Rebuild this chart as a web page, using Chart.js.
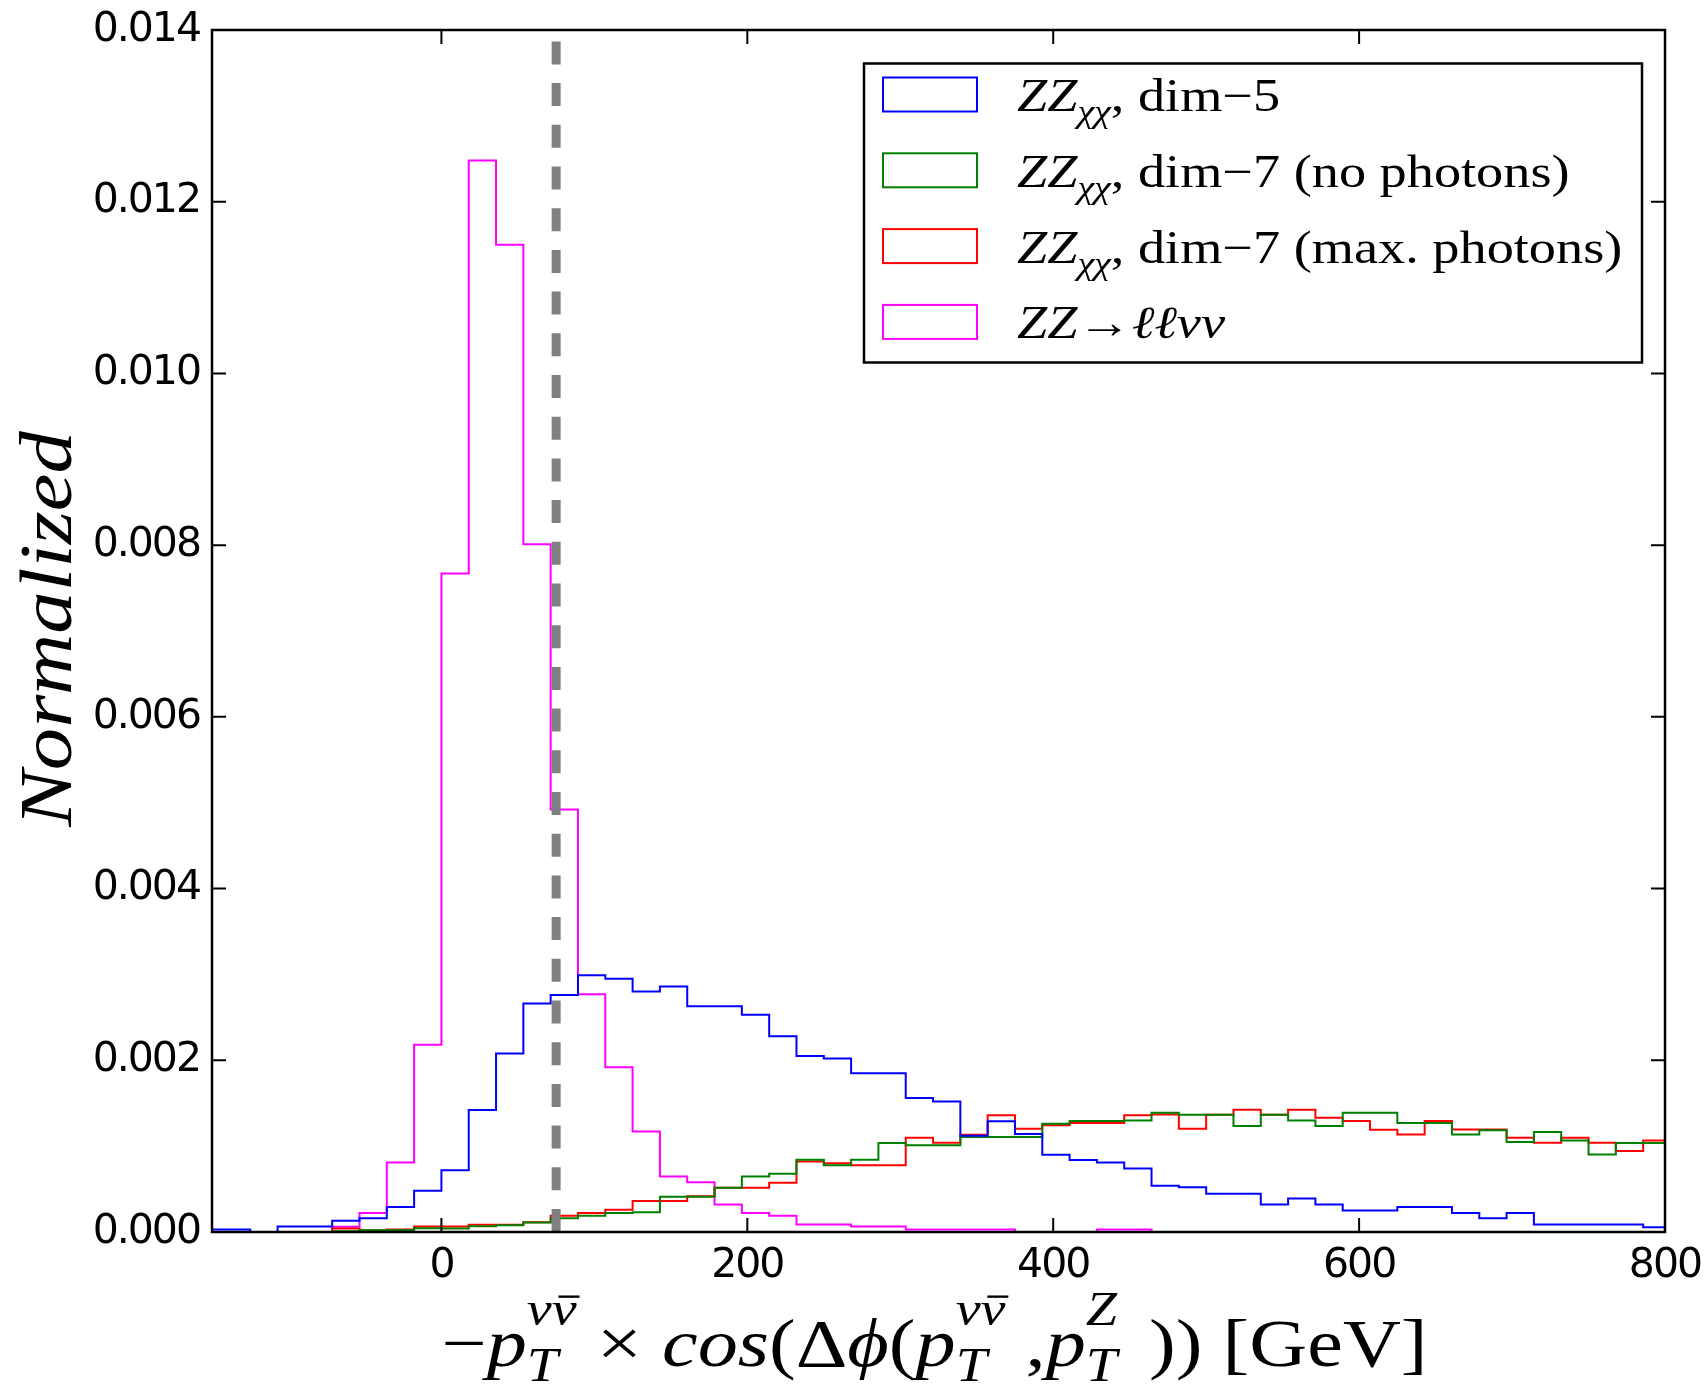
<!DOCTYPE html>
<html>
<head>
<meta charset="utf-8">
<script src="https://cdn.jsdelivr.net/npm/chart.js@4.4.0/dist/chart.umd.min.js"></script>
<style>
    html, body { margin: 0; padding: 0; background: #fff; }
    #chart { display: block; }
</style>
</head>
<body>
<canvas id="chart" width="1708" height="1387"></canvas>
<script>
// histogram binning: 56 bins per 1000 GeV, first stored bin starts 9 bins below zero
const binWidth = 1000 / 56
const firstBin = -9

const xTicks = [0, 200, 400, 600, 800]
const yTicks = [0, 0.002, 0.004, 0.006, 0.008, 0.010, 0.012, 0.014]
const cutValue = 75

// bin contents, bins -9 .. 44
const dim5 = [
    0.00003, 0.00003, 0, 0.000064, 0.000064, 0.00013, 0.00016, 0.00029, 0.00048,
    0.00072, 0.00142, 0.00208, 0.00266, 0.00276, 0.00299, 0.00295, 0.00280, 0.00286, 0.00263,
    0.00263, 0.00253, 0.00228, 0.00205, 0.00202, 0.00185, 0.00185, 0.00156, 0.00152, 0.00112,
    0.00129, 0.00114, 0.00090, 0.00084, 0.00081, 0.00074, 0.00054, 0.00052, 0.000445, 0.000445,
    0.00032, 0.00039, 0.00032, 0.00025, 0.00025, 0.00029, 0.00029, 0.00022, 0.00016, 0.00022,
    0.000087, 0.000087, 0.000087, 0.000087, 0.000056
]
const dim7NoPhotons = [
    0, 0, 0, 0, 0, 0.00001, 0.00002, 0.00002, 0.000044,
    0.00004, 0.000068, 0.00008, 0.00011, 0.00016, 0.00019, 0.00022, 0.00023, 0.00041, 0.00041,
    0.000515, 0.000647, 0.000679, 0.000842, 0.000776, 0.000842, 0.001036, 0.001009, 0.001009, 0.001106,
    0.001106, 0.001106, 0.001262, 0.001292, 0.001292, 0.00130, 0.00139, 0.001367, 0.001367, 0.001234,
    0.001367, 0.00130, 0.001234, 0.00139, 0.00139, 0.001269, 0.00127, 0.001137, 0.001184, 0.001047,
    0.001164, 0.001067, 0.000904, 0.001036, 0.001036
]
const dim7MaxPhotons = [
    0, 0, 0, 0, 0, 0.00004, 0.00002, 0.00003, 0.000064,
    0.000064, 0.000084, 0.000084, 0.000114, 0.00019, 0.00022, 0.00026, 0.00036, 0.00036, 0.000415,
    0.000515, 0.000515, 0.000575, 0.000822, 0.000802, 0.000776, 0.000776, 0.001098, 0.00104, 0.001133,
    0.001359, 0.001203, 0.001242, 0.001269, 0.001269, 0.001359, 0.00137, 0.001203, 0.001367, 0.001425,
    0.001367, 0.001425, 0.001332, 0.001292, 0.001192, 0.001137, 0.001292, 0.001195, 0.001195, 0.001098,
    0.00104, 0.001098, 0.00104, 0.000942, 0.001067
]
const zzBackground = [
    0, 0, 0, 0, 0, 0.00006, 0.00022, 0.00081, 0.00218,
    0.00767, 0.01248, 0.0115, 0.00801, 0.00492, 0.00277, 0.00192, 0.00117, 0.000645, 0.00058,
    0.00032, 0.00022, 0.00019, 0.000087, 0.000087, 0.000064, 0.000064, 0.000029, 0.000029, 0.000029,
    0.000029, 0, 0, 0, 0.000029, 0.000029, 0, 0, 0, 0,
    0, 0, 0, 0, 0, 0, 0, 0, 0, 0,
    0, 0, 0, 0, 0
]

const seriesColors = ['#0000ff', '#008000', '#ff0000', '#ff00ff']

// step outline: one point per left edge, last point on the closing right edge
function stepPoints(values) {
    var pts = values.map((v, i) => ({x: (firstBin + i) * binWidth, y: v}))
    pts.push({x: (firstBin + values.length) * binWidth, y: values[values.length - 1]})
    return pts
}

function histSet(values, color) {
    return {
        data: stepPoints(values),
        borderColor: color,
        borderWidth: 2,
        stepped: 'before',
        pointRadius: 0,
        fill: false,
        clip: 0
    }
}

const SERIF = '"Liberation Serif", "Times New Roman", serif'

// minimal rich text: plain runs plus stacked super/subscripts
function layoutRich(ctx, parts, size, draw) {
    var x = 0
    parts.forEach(p => {
        if (p.sup !== undefined || p.sub !== undefined) {
            var s = size * 0.7
            ctx.font = 'italic ' + s + 'px ' + SERIF
            var w1 = p.sup ? ctx.measureText(p.sup).width : 0
            var w2 = p.sub ? ctx.measureText(p.sub).width : 0
            var supY = -size * 0.6
            if (draw) {
                if (p.sup) ctx.fillText(p.sup, x, supY)
                if (p.sub) ctx.fillText(p.sub, x, size * (p.sup ? 0.22 : 0.24))
                if (p.bar) {
                    // bar over the last character of the superscript
                    var wl = ctx.measureText(p.sup.slice(-1)).width
                    ctx.save()
                    ctx.strokeStyle = '#000'
                    ctx.lineWidth = size * 0.035
                    ctx.beginPath()
                    ctx.moveTo(x + w1 - wl + s * 0.12, supY - s * 0.6)
                    ctx.lineTo(x + w1 + s * 0.05, supY - s * 0.6)
                    ctx.stroke()
                    ctx.restore()
                }
            }
            x += Math.max(w1, w2) + (p.gap || 0) * size
        } else {
            ctx.font = (p.it ? 'italic ' : '') + size + 'px ' + SERIF
            if (draw) ctx.fillText(p.t, x, 0)
            x += ctx.measureText(p.t).width
        }
    })
    return x
}

function drawRich(ctx, parts, x, y, size, stretch, center) {
    ctx.save()
    ctx.letterSpacing = '0px'
    ctx.translate(x, y)
    ctx.scale(stretch, 1)
    var w = layoutRich(ctx, parts, size, false)
    if (center) ctx.translate(-w / 2, 0)
    ctx.textAlign = 'left'
    ctx.textBaseline = 'alphabetic'
    ctx.fillStyle = '#000'
    layoutRich(ctx, parts, size, true)
    ctx.restore()
    return w * stretch
}

const legendRows = [
    [{t: 'ZZ', it: true}, {sub: 'χχ'}, {t: ', dim−5'}],
    [{t: 'ZZ', it: true}, {sub: 'χχ'}, {t: ', dim−7 (no photons)'}],
    [{t: 'ZZ', it: true}, {sub: 'χχ'}, {t: ', dim−7 (max. photons)'}],
    [{t: 'ZZ', it: true}, {t: '→'}, {t: 'ℓℓνν', it: true}]
]

const xTitle = [
    {t: '−'}, {t: 'p', it: true}, {sup: 'νν', bar: true, sub: 'T'}, {t: ' × '},
    {t: 'cos', it: true}, {t: '(Δ'}, {t: 'ϕ', it: true}, {t: '('},
    {t: 'p', it: true}, {sup: 'νν', bar: true, sub: 'T'}, {t: ' ,'},
    {t: 'p', it: true}, {sup: 'Z', sub: 'T', gap: 0.15}, {t: ' ))'}, {t: ' [GeV]'}
]

var decorations = {
    id: 'decorations',
    beforeDraw: (chart) => {
        chart.ctx.letterSpacing = '-2px'
    },
    afterDatasetsDraw: (chart) => {
        var ctx = chart.ctx
        var a = chart.chartArea
        var xs = chart.scales.x
        var ys = chart.scales.y
        ctx.save()
        ctx.strokeStyle = '#000'
        ctx.lineWidth = 2
        ctx.beginPath()
        xTicks.forEach(v => {
            var px = xs.getPixelForValue(v)
            ctx.moveTo(px, a.bottom); ctx.lineTo(px, a.bottom - 14)
            ctx.moveTo(px, a.top); ctx.lineTo(px, a.top + 14)
        })
        yTicks.forEach(v => {
            var py = ys.getPixelForValue(v)
            ctx.moveTo(a.left, py); ctx.lineTo(a.left + 14, py)
            ctx.moveTo(a.right, py); ctx.lineTo(a.right - 14, py)
        })
        ctx.stroke()
        ctx.lineWidth = 2.5
        ctx.strokeRect(a.left, a.top, a.right - a.left, a.bottom - a.top)
        ctx.restore()
    },
    afterDraw: (chart) => {
        var ctx = chart.ctx
        ctx.save()
        ctx.letterSpacing = '0px'
        // legend
        ctx.fillStyle = '#fff'
        ctx.fillRect(864, 63.5, 778, 299)
        ctx.strokeStyle = '#000'
        ctx.lineWidth = 2.5
        ctx.strokeRect(864, 63.5, 778, 299)
        legendRows.forEach((row, i) => {
            var cy = 94.5 + i * 75.8
            ctx.strokeStyle = seriesColors[i]
            ctx.lineWidth = 2
            ctx.strokeRect(883, cy - 17, 94, 34)
            drawRich(ctx, row, 1017, cy + 16.5, 46, 1.18, false)
        })
        // axis titles
        var a = chart.chartArea
        drawRich(ctx, xTitle, (a.left + a.right) / 2 - 4, 1366, 68, 1.18, true)
        ctx.save()
        ctx.translate(71, (a.top + a.bottom) / 2 - 2)
        ctx.rotate(-Math.PI / 2)
        drawRich(ctx, [{t: 'Normalized', it: true}], 0, 0, 75, 1.13, true)
        ctx.restore()
        ctx.restore()
    }
}

var ctx = document.getElementById('chart')
var chart = new Chart(ctx, {
    type: 'line',
    data: {
        datasets: [
            {
                data: [{x: cutValue, y: 0}, {x: cutValue, y: 0.014}],
                borderColor: '#808080',
                borderWidth: 9,
                borderDash: [23, 18.7],
                pointRadius: 0,
                fill: false
            },
            histSet(dim5, seriesColors[0]),
            histSet(dim7NoPhotons, seriesColors[1]),
            histSet(dim7MaxPhotons, seriesColors[2]),
            histSet(zzBackground, seriesColors[3])
        ]
    },
    options: {
        responsive: false,
        animation: false,
        devicePixelRatio: 1,
        layout: {padding: {left: 0, right: 43, top: 30, bottom: 0}},
        plugins: {
            legend: {display: false},
            tooltip: {enabled: false}
        },
        scales: {
            x: {
                type: 'linear',
                min: -150,
                max: 800,
                border: {display: false},
                grid: {display: false, drawTicks: false},
                afterBuildTicks: (s) => { s.ticks = xTicks.map(v => ({value: v})) },
                afterFit: (s) => {
                    s.height = 155
                    s.paddingLeft = 0
                    s.paddingRight = 0
                },
                ticks: {
                    padding: 10,
                    color: '#000',
                    maxRotation: 0,
                    font: {family: '"DejaVu Sans"', size: 41},
                    callback: (v) => String(v)
                }
            },
            y: {
                type: 'linear',
                min: 0,
                max: 0.014,
                border: {display: false},
                grid: {display: false, drawTicks: false},
                afterBuildTicks: (s) => { s.ticks = yTicks.map(v => ({value: v})) },
                afterFit: (s) => {
                    s.width = 212
                    s.paddingTop = 0
                    s.paddingBottom = 0
                },
                ticks: {
                    padding: 12,
                    color: '#000',
                    font: {family: '"DejaVu Sans"', size: 41, lineHeight: 1},
                    callback: (v) => v.toFixed(3)
                }
            }
        }
    },
    plugins: [decorations]
})
</script>
</body>
</html>
